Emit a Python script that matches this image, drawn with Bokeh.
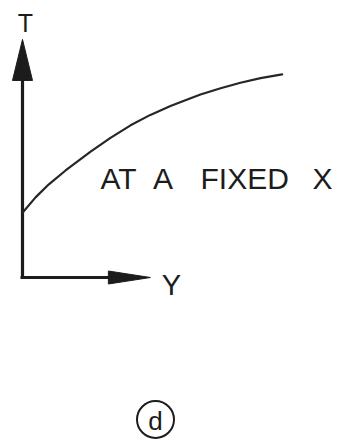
from bokeh.plotting import figure
from bokeh.models import Range1d, ColumnDataSource
from bokeh.core.properties import value
from bokeh.embed import file_html
from bokeh.resources import INLINE

# Temperature profile T along Y, at a fixed X (schematic units)
y_vals = [0.0, 0.50, 1.01, 1.65, 2.29, 2.61, 3.37, 4.14, 4.90, 5.67,
          6.44, 6.82, 7.59, 8.35, 9.12, 9.95]
t_vals = [2.48, 3.07, 3.57, 4.10, 4.58, 4.82, 5.35, 5.83, 6.23, 6.57,
          6.87, 7.01, 7.25, 7.46, 7.64, 7.78]

# Axis extents (schematic units)
t_axis_top = 9.12
y_axis_end = 4.90

# Annotation text
t_label = "T"
y_label = "Y"
curve_words = ["AT", "A", "FIXED", "X"]
curve_word_y = [2.99, 5.00, 6.82, 11.11]
panel_tag = "d"

W, H = 338, 443
PX = 26.1                     # screen pixels per schematic unit
ORIGIN_X, ORIGIN_Y = 22, 277  # origin position on screen

p = figure(width=W, height=H, output_backend="svg", toolbar_location=None,
           min_border=0, outline_line_color=None, background_fill_color="white",
           border_fill_color="white")
p.x_range = Range1d(-ORIGIN_X / PX, (W - ORIGIN_X) / PX)
p.y_range = Range1d((ORIGIN_Y - H) / PX, ORIGIN_Y / PX)
p.axis.visible = False
p.grid.visible = False

ink = "#1c1c1c"
font = value("Liberation Sans")

def u(px):
    return px / PX

# axes drawn by hand with long, narrow arrowheads
p.line([0, 0], [-0.03, t_axis_top - u(30)], line_color=ink, line_width=3.2)
p.line([u(-2), y_axis_end - u(30)], [0, 0], line_color=ink, line_width=3.2)
p.patch([0, u(-10), u(10)],
        [t_axis_top, t_axis_top - u(41), t_axis_top - u(41)],
        fill_color=ink, line_color=ink, line_width=1)
p.patch([y_axis_end, y_axis_end - u(42), y_axis_end - u(42)],
        [0, u(6.5), u(-6.5)],
        fill_color=ink, line_color=ink, line_width=1)

# the profile curve
src = ColumnDataSource(dict(y=y_vals, t=t_vals))
p.line("y", "t", source=src, line_color="#262626", line_width=2.2,
       line_join="round", line_cap="round")

# labels
p.text(x=[u(3)], y=[u(277 - 22)], text=[t_label], text_font=font,
       text_font_size="25px", text_align="center", text_baseline="middle",
       text_color=ink)
p.text(x=[u(171 - 22)], y=[u(277 - 284)], text=[y_label], text_font=font,
       text_font_size="29px", text_align="center", text_baseline="middle",
       text_color=ink)
p.text(x=curve_word_y, y=[u(277 - 178)] * len(curve_words), text=curve_words,
       text_font=font, text_font_size="30px", text_align="left",
       text_baseline="alphabetic", text_color=ink)

# circled panel tag
p.scatter(x=[u(155 - 22)], y=[u(277 - 419)], size=37, marker="circle",
          fill_color=None, line_color=ink, line_width=2)
p.text(x=[u(155 - 22)], y=[u(277 - 420)], text=[panel_tag], text_font=font,
       text_font_size="26px", text_align="center", text_baseline="middle",
       text_color=ink)

open("out.html", "w").write(file_html(p, INLINE))
